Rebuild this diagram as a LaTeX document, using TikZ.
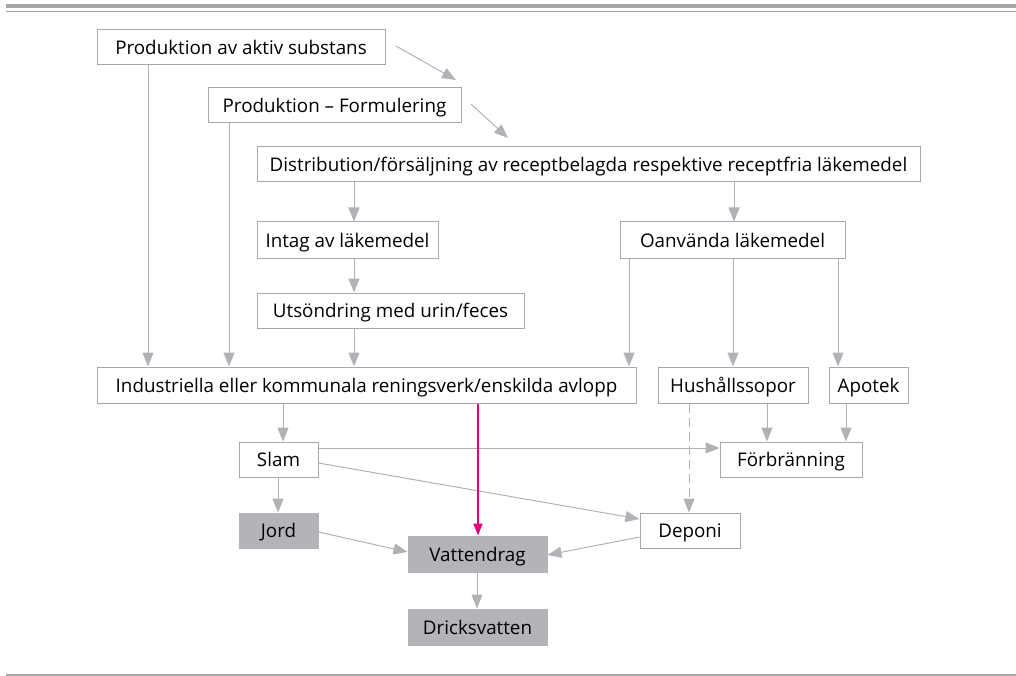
\documentclass[tikz,border=0pt]{standalone}
\usepackage{fontspec}
\setmainfont{Open Sans}
\usetikzlibrary{arrows.meta}
\definecolor{linegray}{HTML}{B1B2B5}
\definecolor{boxline}{HTML}{A7A8AB}
\definecolor{boxfill}{HTML}{B3B4B7}
\definecolor{pinkc}{HTML}{E6007E}
\definecolor{rulegray}{HTML}{A5A5A5}
\begin{document}
\begin{tikzpicture}[x=1pt,y=-1pt,
 box/.style={draw=boxline, line width=1pt, fill=white, inner sep=0pt, minimum height=35pt, text height=14.5pt, text depth=0pt, font=\fontsize{18.8}{22}\selectfont, text=black},
 gbox/.style={box, fill=boxfill, draw=boxfill},
 arr/.style={draw=linegray, line width=1pt, -{Triangle[length=14pt,width=11pt,fill=linegray]}},
 parr/.style={draw=pinkc, line width=2pt, -{Triangle[length=12pt,width=9pt,fill=pinkc]}},
]
\useasboundingbox (0,0) rectangle (1016,676);
\fill[rulegray] (6,4) rectangle (1016,8.5);
\draw[rulegray, line width=1.5pt] (6,11.5) -- (1016,11.5);
\draw[rulegray, line width=1.5pt] (6,675) -- (1016,675);

\node[box, minimum width=288pt] (prod1) at (241,47.5) {Produktion av aktiv substans};
\node[box, minimum width=253pt] (prod2) at (334.5,105.5) {Produktion – Formulering};
\node[box, minimum width=663pt] (dist) at (588.5,164.5) {Distribution/försäljning av receptbelagda respektive receptfria läkemedel};
\node[box, minimum width=181pt, minimum height=36pt] (intag) at (347.5,240) {Intag av läkemedel};
\node[box, minimum width=225pt, minimum height=36pt] (oanv) at (732.5,240) {Oanvända läkemedel};
\node[box, minimum width=267pt] (utsond) at (390.5,310.5) {Utsöndring med urin/feces};
\node[box, minimum width=539pt, minimum height=36pt] (ind) at (366.5,385) {Industriella eller kommunala reningsverk/enskilda avlopp};
\node[box, minimum width=150pt, minimum height=36pt] (hush) at (733,385) {Hushållssopor};
\node[box, minimum width=79pt, minimum height=36pt] (apotek) at (868.5,385) {Apotek};
\node[box, minimum width=79pt] (slam) at (278.5,459.5) {Slam};
\node[box, minimum width=142pt] (forb) at (791,459.5) {Förbränning};
\node[gbox, minimum width=79pt] (jord) at (278.5,530.5) {Jord};
\node[gbox, minimum width=139pt, minimum height=36pt] (vatten) at (477.5,554) {Vattendrag};
\node[box, minimum width=100pt] (deponi) at (690,530.5) {Deponi};
\node[gbox, minimum width=139pt, minimum height=36pt] (drick) at (477.5,627) {Dricksvatten};

\coordinate (a1s) at (396,46);
\coordinate (a1e) at (456,80);
\coordinate (a2s) at (471,104);
\coordinate (a2e) at (508,138);
\draw[arr] (a1s) -- (a1e);
\draw[arr] (a2s) -- (a2e);

\draw[arr] (prod1.south -| 148,0) -- (ind.north -| 148,0);
\draw[arr] (prod2.south -| 229,0) -- (ind.north -| 229,0);
\draw[arr] (dist.south -| 354,0) -- (intag.north -| 354,0);
\draw[arr] (dist.south -| 734,0) -- (oanv.north -| 734,0);
\draw[arr] (intag.south -| 354,0) -- (utsond.north -| 354,0);
\draw[arr] (utsond.south -| 354,0) -- (ind.north -| 354,0);
\draw[arr] (oanv.south -| 629,0) -- (ind.north -| 629,0);
\draw[arr] (oanv.south -| 733,0) -- (hush.north -| 733,0);
\draw[arr] (oanv.south -| 838,0) -- (apotek.north -| 838,0);
\draw[arr] (ind.south -| 283,0) -- (slam.north -| 283,0);
\draw[arr] (hush.south -| 767,0) -- (forb.north -| 767,0);
\draw[arr] (apotek.south -| 846,0) -- (forb.north -| 846,0);
\draw[arr, dash pattern=on 9pt off 5pt] (hush.south -| 689,0) -- (deponi.north -| 689,0);
\draw[arr] (slam.east |- 0,448) -- (forb.west |- 0,448);
\draw[arr] (slam.east |- 0,463) -- (deponi.west |- 0,519);
\draw[arr] (slam.south -| 278,0) -- (jord.north -| 278,0);
\draw[arr] (jord.east |- 0,532) -- (vatten.west |- 0,552);
\draw[arr] (deponi.west |- 0,537) -- (vatten.east |- 0,555);
\draw[arr] (vatten.south -| 477,0) -- (drick.north -| 477,0);
\draw[parr] (ind.south -| 478,0) -- (vatten.north -| 478,0);
\end{tikzpicture}
\end{document}
